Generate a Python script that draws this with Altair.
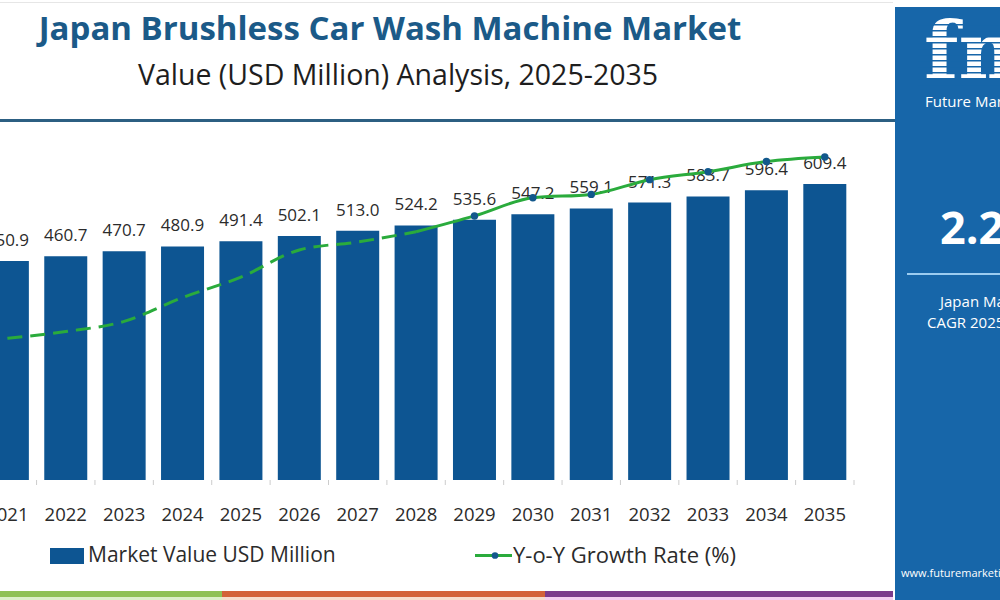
import altair as alt
import pandas as pd

# ---- data ----
years = list(range(2021, 2036))
market_value = [450.9, 460.7, 470.7, 480.9, 491.4, 502.1, 513.0, 524.2,
                535.6, 547.2, 559.1, 571.3, 583.7, 596.4, 609.4]
yoy_growth = [1.25, 1.31, 1.40, 1.61, 1.79, 2.03, 2.10, 2.19,
              2.33, 2.49, 2.52, 2.65, 2.72, 2.81, 2.85]
dashed_years = list(range(2021, 2029))
solid_years = list(range(2028, 2036))
dot_years = list(range(2029, 2036))

title_text = "Japan Brushless Car Wash Machine Market"
subtitle_text = "Value (USD Million) Analysis, 2025-2035"
legend_bar = "Market Value USD Million"
legend_line = "Y-o-Y Growth Rate (%)"

FONT = "Open Sans"
BAR = "#0d5592"
GREEN = "#2aab3c"
DOT = "#12588c"
TXT = "#2b2b2b"
PANEL = "#1766a9"

df = pd.DataFrame({"year": years, "value": market_value, "growth": yoy_growth})
df_dash = df[df.year.isin(dashed_years)]
df_solid = df[df.year.isin(solid_years)]
df_dots = df[df.year.isin(dot_years)]

TOP = 140  # plot area top in page px
x0 = 2021 - 2.4 / 59.08
xscale = alt.Scale(domain=[x0, 2035.5], nice=False, zero=False)
yscale = alt.Scale(domain=[0, 700], nice=False)

base = alt.Chart(df)

bars = base.mark_bar(size=43, color=BAR).encode(
    x=alt.X("year:Q", scale=xscale,
            axis=alt.Axis(labels=False, ticks=False, grid=False, title=None,
                          domainColor="#dddddd")),
    y=alt.Y("value:Q", scale=yscale,
            axis=alt.Axis(labels=False, ticks=False, domain=False, title=None,
                          grid=True, gridColor="#f0f0f0",
                          values=[0, 100, 200, 300, 400, 500, 600, 700])),
)

labels = base.mark_text(font=FONT, fontSize=17, color=TXT, dy=-20,
                        baseline="middle").encode(
    x=alt.X("year:Q", scale=xscale, axis=None),
    y=alt.Y("value:Q", scale=yscale, axis=None),
    text=alt.Text("value:Q", format=".1f"),
)

year_labels = base.mark_text(font=FONT, fontSize=18.5, color=TXT,
                             baseline="middle").encode(
    x=alt.X("year:Q", scale=xscale, axis=None),
    y=alt.value(515 - TOP),
    text=alt.Text("year:Q", format="d"),
)

ticks = base.transform_calculate(b="datum.year + 0.5").mark_rule(
    color="#cccccc", strokeWidth=1).encode(
    x=alt.X("b:Q", scale=xscale, axis=None),
    y=alt.value(480 - TOP),
    y2=alt.value(485 - TOP),
)

gscale = alt.Scale(domain=[0, 3], nice=False)
line_dash = alt.Chart(df_dash).mark_line(
    color=GREEN, strokeWidth=3, strokeDash=[15, 8], interpolate="monotone").encode(
    x=alt.X("year:Q", scale=xscale, axis=None),
    y=alt.Y("growth:Q", scale=gscale, axis=None),
)
line_solid = alt.Chart(df_solid).mark_line(
    color=GREEN, strokeWidth=3, interpolate="monotone").encode(
    x=alt.X("year:Q", scale=xscale, axis=None),
    y=alt.Y("growth:Q", scale=gscale, axis=None),
)
dots = alt.Chart(df_dots).mark_circle(size=55, color=DOT, opacity=1).encode(
    x=alt.X("year:Q", scale=xscale, axis=None),
    y=alt.Y("growth:Q", scale=gscale, axis=None),
)

one = pd.DataFrame({"k": [0]})
dec = alt.Chart(one)

def txt(s, x, y, size, color=TXT, weight="normal", align="center", font=FONT):
    return dec.mark_text(text=s, font=font, fontSize=size, color=color,
                         fontWeight=weight, align=align, baseline="middle").encode(
        x=alt.value(x), y=alt.value(y - TOP))

def rect(x1, x2, y1, y2, color):
    return dec.mark_rect(color=color).encode(
        x=alt.value(x1), x2=alt.value(x2),
        y=alt.value(y1 - TOP), y2=alt.value(y2 - TOP))

# thin stripes across the logo letters (decoration)
stripe_df = pd.DataFrame({"s": list(range(24, 86, 6))})
logo_stripes = alt.Chart(stripe_df).transform_calculate(
    y1=f"datum.s - {TOP}", y2=f"datum.s - {TOP} + 1.6").mark_rect(color=PANEL).encode(
    x=alt.value(918), x2=alt.value(1005),
    y=alt.Y("y1:Q", scale=None, axis=None), y2=alt.Y2("y2:Q"))

deco = [
    rect(0, 893, 2, 3, "#e6e6e6"),
    rect(0, 895, 119, 122, "#2c5f82"),
    txt(title_text, 390, 30, 33, color="#1b5a88", weight="bold"),
    txt(subtitle_text, 398, 76, 28.5, color="#1e1e1e"),
    # legend
    rect(50, 84, 548, 564, BAR),
    txt(legend_bar, 88, 556, 21, align="left"),
    rect(475, 512, 554, 557, GREEN),
    dec.mark_circle(size=45, color=DOT, opacity=1).encode(
        x=alt.value(495), y=alt.value(555.5 - TOP)),
    txt(legend_line, 513, 556, 22, align="left"),
    # bottom stripes
    rect(0, 222, 591, 597, "#8fc156"),
    rect(222, 545, 591, 597, "#d3623a"),
    rect(545, 893, 591, 597, "#7c3b8c"),
    rect(0, 222, 597, 600, "#dcefc9"),
    rect(222, 545, 597, 600, "#f7dccd"),
    rect(545, 893, 597, 600, "#f5cdf0"),
    # right panel
    rect(895, 1005, 7, 605, PANEL),
    txt("fmi", 924, 55, 80, color="white", weight="bold", align="left",
        font="DejaVu Serif"),
    logo_stripes,
    txt("Future Market Insights", 925, 102, 15, color="white", align="left"),
    txt("2.2%", 940, 230, 45, color="white", weight="bold", align="left"),
    rect(907, 1005, 273, 275, "#9cccf0"),
    txt("Japan Market", 940, 302, 15, color="white", align="left"),
    txt("CAGR 2025-2035", 927, 323, 15, color="white", align="left"),
    txt("www.futuremarketinsights.com", 901, 574, 11, color="white", align="left"),
]

value_layer = alt.layer(bars, ticks, labels, year_labels)
growth_layer = alt.layer(line_dash, line_solid, dots)
main = alt.layer(value_layer, growth_layer).resolve_scale(y="independent")

chart = alt.layer(main, *deco).properties(
    width=859, height=340,
    autosize=alt.AutoSizeParams(type="none"),
    padding={"left": 0, "top": TOP, "right": 141, "bottom": 120},
    background="white",
).configure_view(stroke=None)

chart.save("out.html", embed_options={"renderer": "svg", "actions": False})
